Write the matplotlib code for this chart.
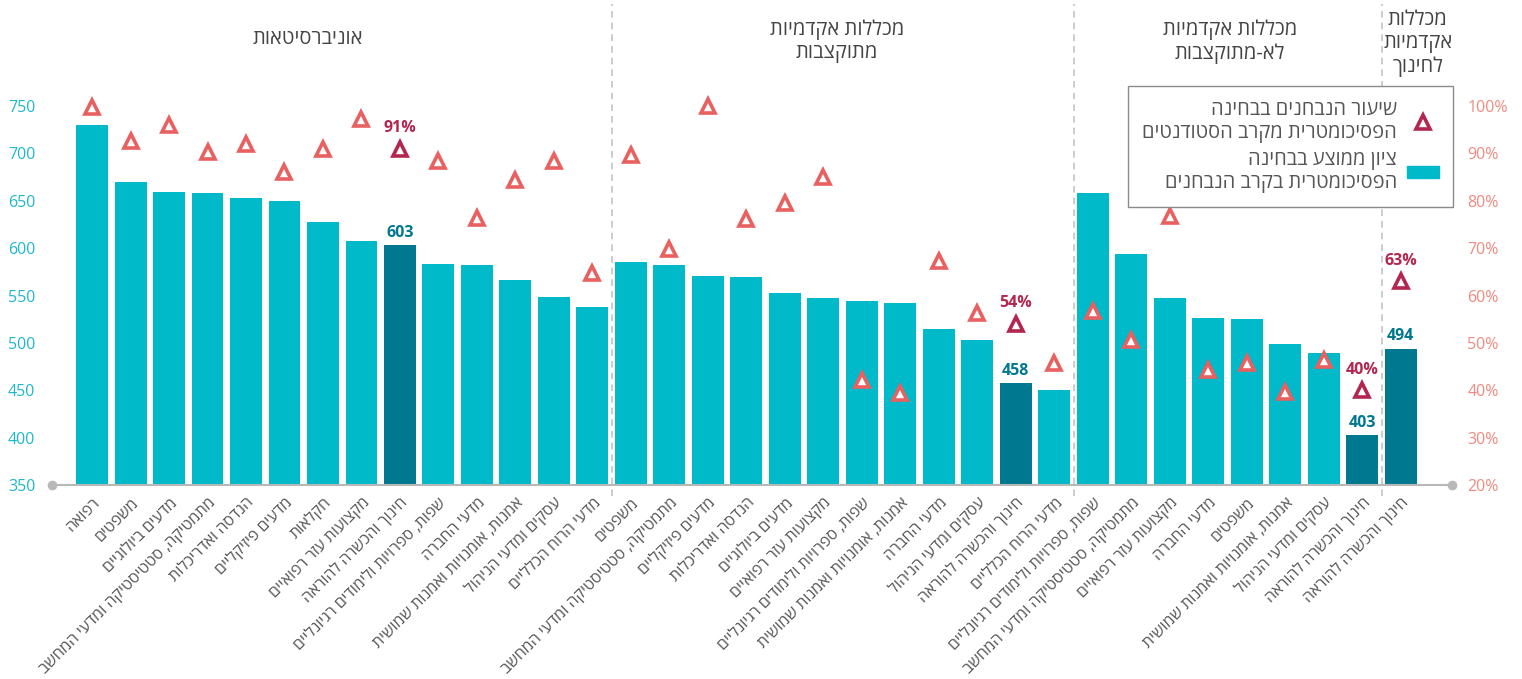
import matplotlib
matplotlib.use('Agg')
import matplotlib.pyplot as plt
import numpy as np
from matplotlib.lines import Line2D
from matplotlib.patches import Patch

plt.rcParams['font.family'] = ['Open Sans', 'Liberation Sans', 'DejaVu Sans']


def heb(s):
    # matplotlib has no bidi support, so flip every line by hand
    return '\n'.join(line[::-1] for line in s.split('\n'))


# ---------------------------------------------------------
# data

group_titles = ['אוניברסיטאות', 'מכללות אקדמיות\nמתוקצבות',
                'מכללות אקדמיות\nלא-מתוקצבות', 'מכללות\nאקדמיות\nלחינוך']

uni_fields = ['רפואה', 'משפטים', 'מדעים ביולוגיים', 'מתמטיקה, סטטיסטיקה ומדעי המחשב',
              'הנדסה ואדריכלות', 'מדעים פיזיקליים', 'חקלאות', 'מקצועות עזר רפואיים',
              'חינוך והכשרה להוראה', 'שפות, ספרויות ולימודים רגיונליים', 'מדעי החברה',
              'אמנות, אומנויות ואמנות שמושית', 'עסקים ומדעי הניהול', 'מדעי הרוח הכלליים']
uni_scores = [730, 670, 659, 658, 653, 650, 628, 607, 603, 583, 582, 566, 548, 538]
uni_rates = [99.8, 92.6, 96, 90.3, 92, 86, 91, 97.3, 91, 88.4, 76.4, 84.4, 88.4, 64.8]

bud_fields = ['משפטים', 'מתמטיקה, סטטיסטיקה ומדעי המחשב', 'מדעים פיזיקליים',
              'הנדסה ואדריכלות', 'מדעים ביולוגיים', 'מקצועות עזר רפואיים',
              'שפות, ספרויות ולימודים רגיונליים', 'אמנות, אומנויות ואמנות שמושית',
              'מדעי החברה', 'עסקים ומדעי הניהול', 'חינוך והכשרה להוראה', 'מדעי הרוח הכלליים']
bud_scores = [585, 582, 571, 570, 553, 547, 544, 542, 515, 503, 458, 450]
bud_rates = [89.7, 69.9, 100, 76.2, 79.6, 85, 42.2, 39.5, 67.3, 56.4, 54, 45.8]

nonbud_fields = ['שפות, ספרויות ולימודים רגיונליים', 'מתמטיקה, סטטיסטיקה ומדעי המחשב',
                 'מקצועות עזר רפואיים', 'מדעי החברה', 'משפטים',
                 'אמנות, אומנויות ואמנות שמושית', 'עסקים ומדעי הניהול', 'חינוך והכשרה להוראה']
nonbud_scores = [658, 594, 547, 526, 525, 499, 489, 403]
nonbud_rates = [56.7, 50.7, 76.7, 44.3, 45.7, 39.7, 46.4, 40]

edu_fields = ['חינוך והכשרה להוראה']
edu_scores = [494]
edu_rates = [63]

highlight = 'חינוך והכשרה להוראה'

legend_rate = 'שיעור הנבחנים בבחינה\nהפסיכומטרית מקרב הסטודנטים'
legend_score = 'ציון ממוצע בבחינה\nהפסיכומטרית בקרב הנבחנים'

# ---------------------------------------------------------

CYAN, DARK = '#00b9c9', '#00788f'
SALMON, WINE = '#e8605f', '#b3264f'
GREY_TXT = '#555555'

groups = [(uni_fields, uni_scores, uni_rates), (bud_fields, bud_scores, bud_rates),
          (nonbud_fields, nonbud_scores, nonbud_rates), (edu_fields, edu_scores, edu_rates)]
fields = [f for g in groups for f in g[0]]
scores = np.array([s for g in groups for s in g[1]])
rates = np.array([r for g in groups for r in g[2]])
x = np.arange(len(fields))
is_hl = np.array([f == highlight for f in fields])
sizes = np.cumsum([len(g[0]) for g in groups])

fig = plt.figure(figsize=(15.22, 6.79), dpi=100)
ax = fig.add_axes([52 / 1522, 1 - 485 / 679, 1400 / 1522, 379 / 679])

ax.bar(x, scores - 350, bottom=350, width=0.83,
       color=[DARK if h else CYAN for h in is_hl], zorder=2)
ax.set_xlim(-1.04, 35.33)
ax.set_ylim(350, 750)
ax.set_yticks(range(350, 751, 50))
ax.tick_params(axis='y', length=0, pad=12, labelsize=11.5, labelcolor='#1fb8cb')
ax.set_xticks(x)
ax.set_xticklabels([heb(f) for f in fields], rotation=45, ha='right', va='top',
                   rotation_mode='anchor', fontsize=11.5, color=GREY_TXT)
ax.tick_params(axis='x', length=0, pad=7)
for side in ['top', 'left', 'right']:
    ax.spines[side].set_visible(False)
ax.spines['bottom'].set_color('#b8b8b8')
ax.spines['bottom'].set_linewidth(1.5)
ax.plot([0, 1], [0, 0], 'o', ms=6, color='#b8b8b8', transform=ax.transAxes, clip_on=False)

for i in x[is_hl]:
    ax.annotate(str(scores[i]), (i, scores[i]), xytext=(0, 3), textcoords='offset points',
                ha='center', va='bottom', fontsize=11.5, fontweight='bold', color=DARK)

# group separators
for b in sizes[:-1]:
    ax.axvline(b - 0.5, ymin=-0.03, ymax=1.27, color='#c4c4c4', lw=1.2,
               ls=(0, (4, 3)), clip_on=False, zorder=0)

header_x = [5.6, 19.35, 29.56, 34.44]
header_y = [1.177, 1.170, 1.170, 1.165]
for title, hx, hy in zip(group_titles, header_x, header_y):
    ax.text(hx, hy, heb(title), transform=ax.get_xaxis_transform(), ha='center', va='center',
            fontsize=14.5, color='#444444', linespacing=1.2)

ax2 = ax.twinx()
ax2.set_ylim(20, 100)
ax2.set_yticks(range(20, 101, 10))
ax2.set_yticklabels([f'{v}%' for v in range(20, 101, 10)])
ax2.tick_params(axis='y', length=0, pad=11, labelsize=11.5, labelcolor='#f08a80')
for side in ['top', 'left', 'right', 'bottom']:
    ax2.spines[side].set_visible(False)

ax2.plot(x[~is_hl], rates[~is_hl], ls='none', marker='^', ms=10.5, mfc='white',
         mec=SALMON, mew=2.6, clip_on=False, zorder=3)
ax2.plot(x[is_hl], rates[is_hl], ls='none', marker='^', ms=10.5, mfc='white',
         mec=WINE, mew=2.6, clip_on=False, zorder=3)
for i in x[is_hl]:
    ax2.annotate(f'{rates[i]:.0f}%', (i, rates[i]), xytext=(0, 9), textcoords='offset points',
                 ha='center', va='bottom', fontsize=11.5, fontweight='bold', color=WINE)

handles = [Line2D([], [], ls='none', marker='^', ms=10.5, mfc='white', mec=WINE, mew=2.6),
           Patch(color=CYAN)]
leg = ax2.legend(handles, [heb(legend_rate), heb(legend_score)], markerfirst=False,
                 loc='upper right', bbox_to_anchor=(1453 / 1522, 1 - 86 / 679),
                 bbox_transform=fig.transFigure, borderaxespad=0, fancybox=False,
                 edgecolor='#8a8a8a', framealpha=1, fontsize=14.4, labelcolor=GREY_TXT,
                 handletextpad=0.5, handlelength=1.6, borderpad=0.7, labelspacing=0.35,
                 handleheight=0.55)
leg.get_frame().set_linewidth(1)
for t in leg.get_texts():
    t.set_multialignment('right')

fig.savefig('out.png', dpi=100)
